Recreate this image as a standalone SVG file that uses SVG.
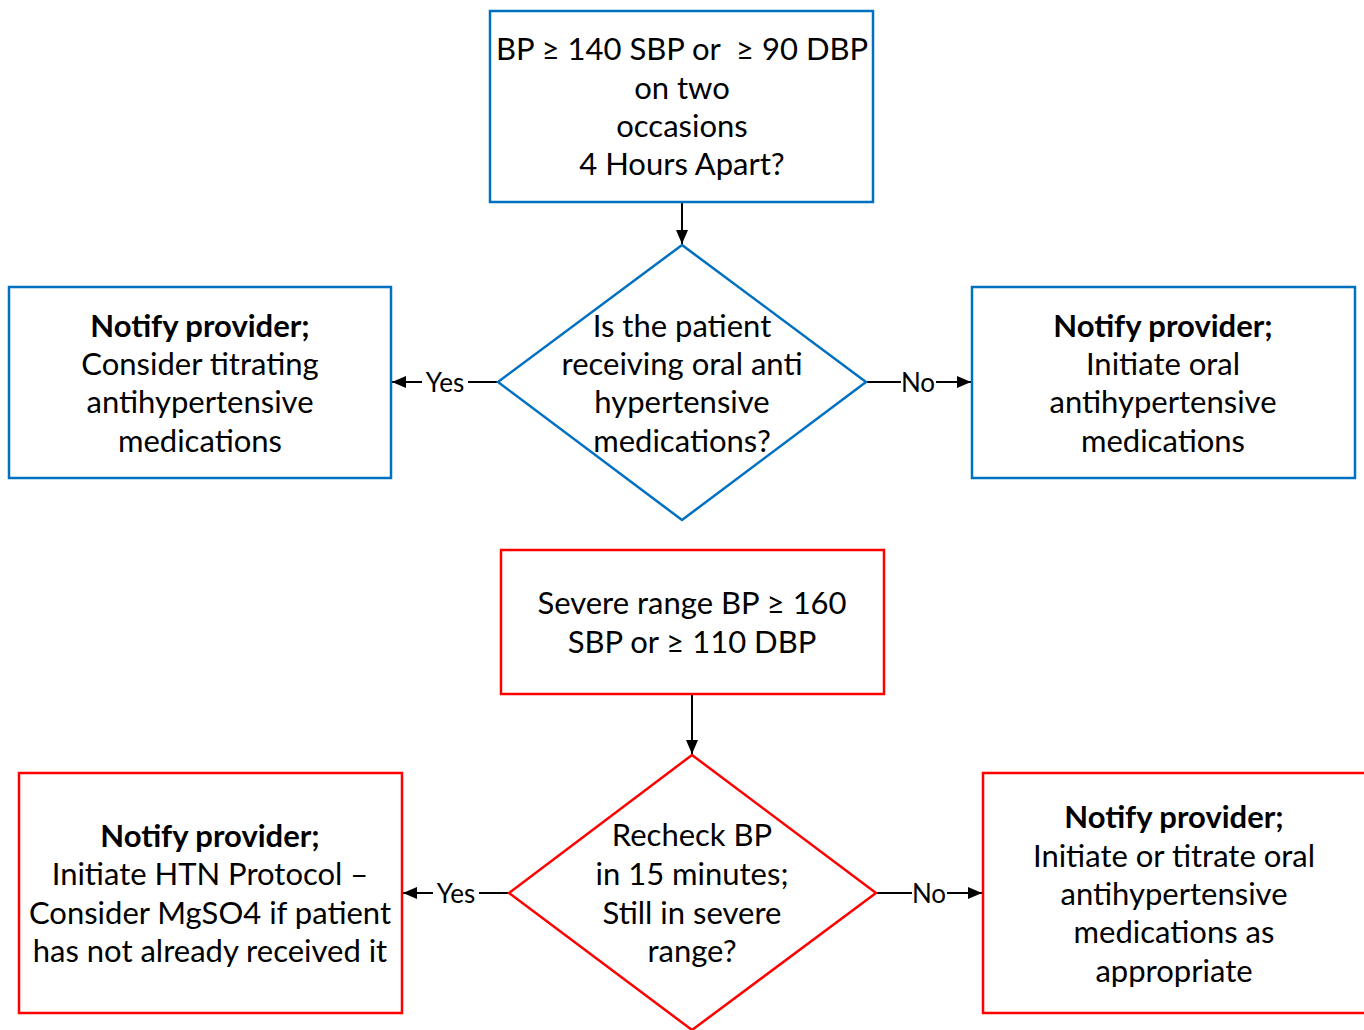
<svg xmlns="http://www.w3.org/2000/svg" width="1364" height="1030" viewBox="0 0 1364 1030">
<defs>
<marker id="arr" viewBox="0 0 14 12" refX="14" refY="6" markerWidth="14" markerHeight="12" markerUnits="userSpaceOnUse" orient="auto">
<path d="M0,0 L14,6 L0,12 z" fill="#000"/>
</marker>
<style>
.b{fill:#fff;stroke:#0070C0;stroke-width:2.5}
.r{fill:#fff;stroke:#FF0000;stroke-width:2.5}
text{font-family:Lato,"Liberation Sans",sans-serif;font-size:31px;fill:#000;text-anchor:middle;dominant-baseline:central;white-space:pre}
.bold{font-weight:bold}
.lbl{font-size:26px}
.c{stroke:#000;stroke-width:2;fill:none}
</style>
</defs>
<rect width="1364" height="1030" fill="#fff"/>
<g id="connectors">
<line class="c" x1="682" y1="202" x2="682" y2="244" marker-end="url(#arr)"/>
<line class="c" x1="498" y1="382" x2="392" y2="382" marker-end="url(#arr)"/>
<line class="c" x1="866" y1="382" x2="971" y2="382" marker-end="url(#arr)"/>
<line class="c" x1="692" y1="694" x2="692" y2="754" marker-end="url(#arr)"/>
<line class="c" x1="509" y1="893" x2="403" y2="893" marker-end="url(#arr)"/>
<line class="c" x1="876" y1="893" x2="982" y2="893" marker-end="url(#arr)"/>
<rect x="422" y="369" width="46" height="26" fill="#fff"/>
<text class="lbl" x="445" y="382">Yes</text>
<rect x="901" y="369" width="35" height="26" fill="#fff"/>
<text class="lbl" x="918" y="382">No</text>
<rect x="433" y="880" width="46" height="26" fill="#fff"/>
<text class="lbl" x="456" y="893">Yes</text>
<rect x="912" y="880" width="35" height="26" fill="#fff"/>
<text class="lbl" x="929" y="893">No</text>
</g>
<g id="n1">
<rect class="b" x="490" y="11" width="383" height="191"/>
<text x="682" y="48" xml:space="preserve">BP ≥ 140 SBP or  ≥ 90 DBP</text>
<text x="682" y="87">on two</text>
<text x="682" y="125">occasions</text>
<text x="682" y="163">4 Hours Apart?</text>
</g>
<g id="n2">
<polygon class="b" points="682,245 866,382 682,520 498,382"/>
<text x="682" y="325">Is the patient</text>
<text x="682" y="363">receiving oral anti</text>
<text x="682" y="401">hypertensive</text>
<text x="682" y="440">medications?</text>
</g>
<g id="n3">
<rect class="b" x="9" y="287" width="382" height="191"/>
<text class="bold" x="200" y="325">Notify provider;</text>
<text x="200" y="363">Consider titrating</text>
<text x="200" y="401">antihypertensive</text>
<text x="200" y="440">medications</text>
</g>
<g id="n4">
<rect class="b" x="972" y="287" width="383" height="191"/>
<text class="bold" x="1163" y="325">Notify provider;</text>
<text x="1163" y="363">Initiate oral</text>
<text x="1163" y="401">antihypertensive</text>
<text x="1163" y="440">medications</text>
</g>
<g id="n5">
<rect class="r" x="501" y="550" width="383" height="144"/>
<text x="692" y="602">Severe range BP ≥ 160</text>
<text x="692" y="641">SBP or ≥ 110 DBP</text>
</g>
<g id="n6">
<polygon class="r" points="692,755 876,893 692,1030 509,893"/>
<text x="692" y="834">Recheck BP</text>
<text x="692" y="873">in 15 minutes;</text>
<text x="692" y="912">Still in severe</text>
<text x="692" y="950">range?</text>
</g>
<g id="n7">
<rect class="r" x="19" y="773" width="383" height="240"/>
<text class="bold" x="210" y="835">Notify provider;</text>
<text x="210" y="873">Initiate HTN Protocol –</text>
<text x="210" y="912">Consider MgSO4 if patient</text>
<text x="210" y="950">has not already received it</text>
</g>
<g id="n8">
<rect class="r" x="983" y="773" width="400" height="240"/>
<text class="bold" x="1174" y="816">Notify provider;</text>
<text x="1174" y="855">Initiate or titrate oral</text>
<text x="1174" y="893">antihypertensive</text>
<text x="1174" y="931">medications as</text>
<text x="1174" y="970">appropriate</text>
</g>
</svg>
